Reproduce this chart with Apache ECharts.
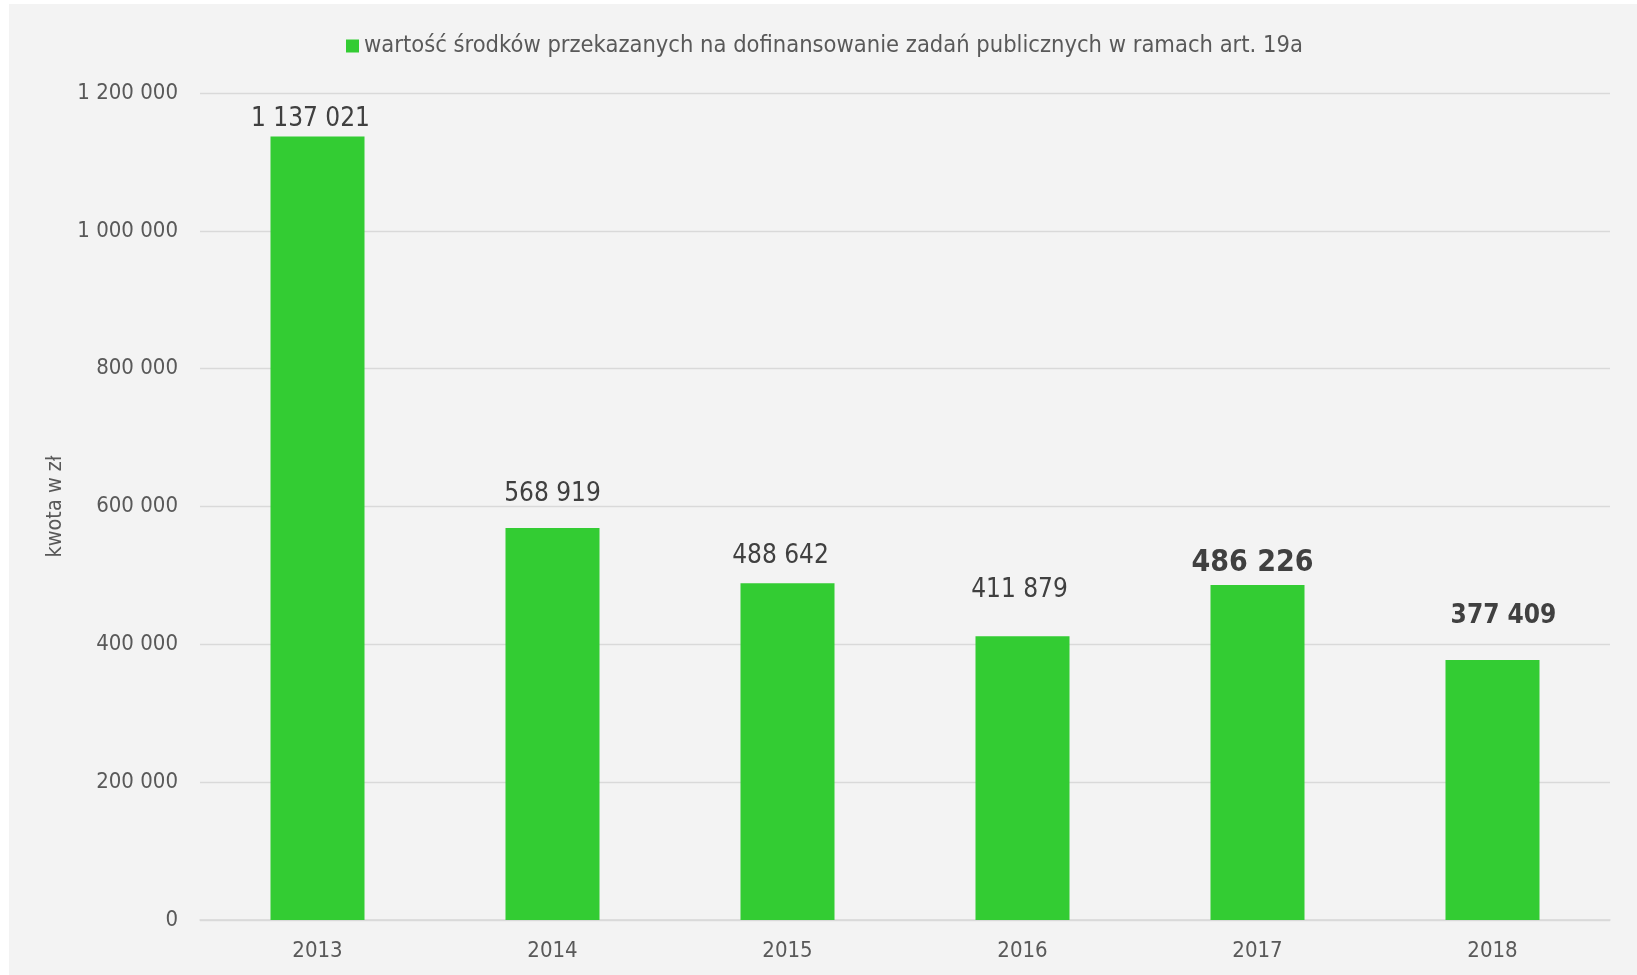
<!DOCTYPE html>
<html>
<head>
<meta charset="utf-8">
<script src="https://cdn.jsdelivr.net/npm/echarts@6/dist/echarts.min.js"></script>
<style>
    html,body{margin:0;padding:0;background:#fff;}
    #chart{position:absolute;left:9px;top:4px;width:1628px;height:971px;background:#f3f3f3;}
</style>
</head>
<body>
<div id="chart"></div>
<script>
// dane z wykresu
let years = ['2013','2014','2015','2016','2017','2018'];
let amounts = [1137021, 568919, 488642, 411879, 486226, 377409];
let seriesName = 'wartość środków przekazanych na dofinansowanie zadań publicznych w ramach art. 19a';
let yTicks = [0, 200000, 400000, 600000, 800000, 1000000, 1200000];

const FONT = 'DejaVu Sans Condensed';

function fmt(v){
    // spacja jako separator tysięcy
    return String(v).replace(/\B(?=(\d{3})+(?!\d))/g, ' ');
}

// etykiety w excelu byly poprzesuwane recznie
let labelTweaks = [
    {distance:4, dx:-7, fontSize:26, bold:false},
    {distance:21, dx:0, fontSize:26, bold:false},
    {distance:14, dx:-7, fontSize:26, bold:false},
    {distance:33, dx:-3, fontSize:26, bold:false},
    {distance:7, dx:-5, fontSize:30, bold:true},
    {distance:31, dx:11, fontSize:26, bold:true}
];

let dataList = [];
amounts.map((v,i)=>{
    let t = labelTweaks[i];
    dataList.push({
        value:v,
        label:{
            distance:t.distance,
            offset:[t.dx,0],
            fontSize:t.fontSize,
            fontWeight:t.bold ? 'bold' : 'normal'
        }
    });
    return 1;
});

var myChart = echarts.init(document.getElementById('chart'));
let option = {
    animation:false,
    textStyle:{fontFamily:FONT},
    legend:{
        data:[seriesName],
        left:332,
        top:25,
        itemWidth:13,
        itemHeight:13,
        icon:'rect',
        textStyle:{fontFamily:FONT, fontSize:23.5, color:'#595959'}
    },
    grid:{
        left:191,
        right:27,
        top:89,
        bottom:55,
        containLabel:false
    },
    xAxis:{
        type:'category',
        data:years,
        axisLine:{lineStyle:{color:'#d9d9d9', width:1.5}},
        axisTick:{show:false},
        axisLabel:{color:'#595959', fontSize:22, margin:20, fontFamily:FONT}
    },
    yAxis:{
        type:'value',
        min:yTicks[0],
        max:yTicks[yTicks.length-1],
        interval:yTicks[1]-yTicks[0],
        name:'kwota w zł',
        nameLocation:'middle',
        nameRotate:90,
        nameGap:132,
        nameTextStyle:{color:'#595959', fontSize:21.5, fontFamily:FONT},
        axisLine:{show:false},
        axisTick:{show:false},
        axisLabel:{color:'#595959', fontSize:22, margin:22, fontFamily:FONT, formatter:fmt},
        splitLine:{lineStyle:{color:'#d9d9d9', width:1.3}}
    },
    series:[
        {
            name:seriesName,
            type:'bar',
            barWidth:'40%',
            itemStyle:{color:'#33cc33'},
            label:{
                show:true,
                position:'top',
                color:'#404040',
                fontFamily:FONT,
                formatter:(p)=>fmt(p.value)
            },
            data:dataList
        }
    ]
};
myChart.setOption(option);
</script>
</body>
</html>
